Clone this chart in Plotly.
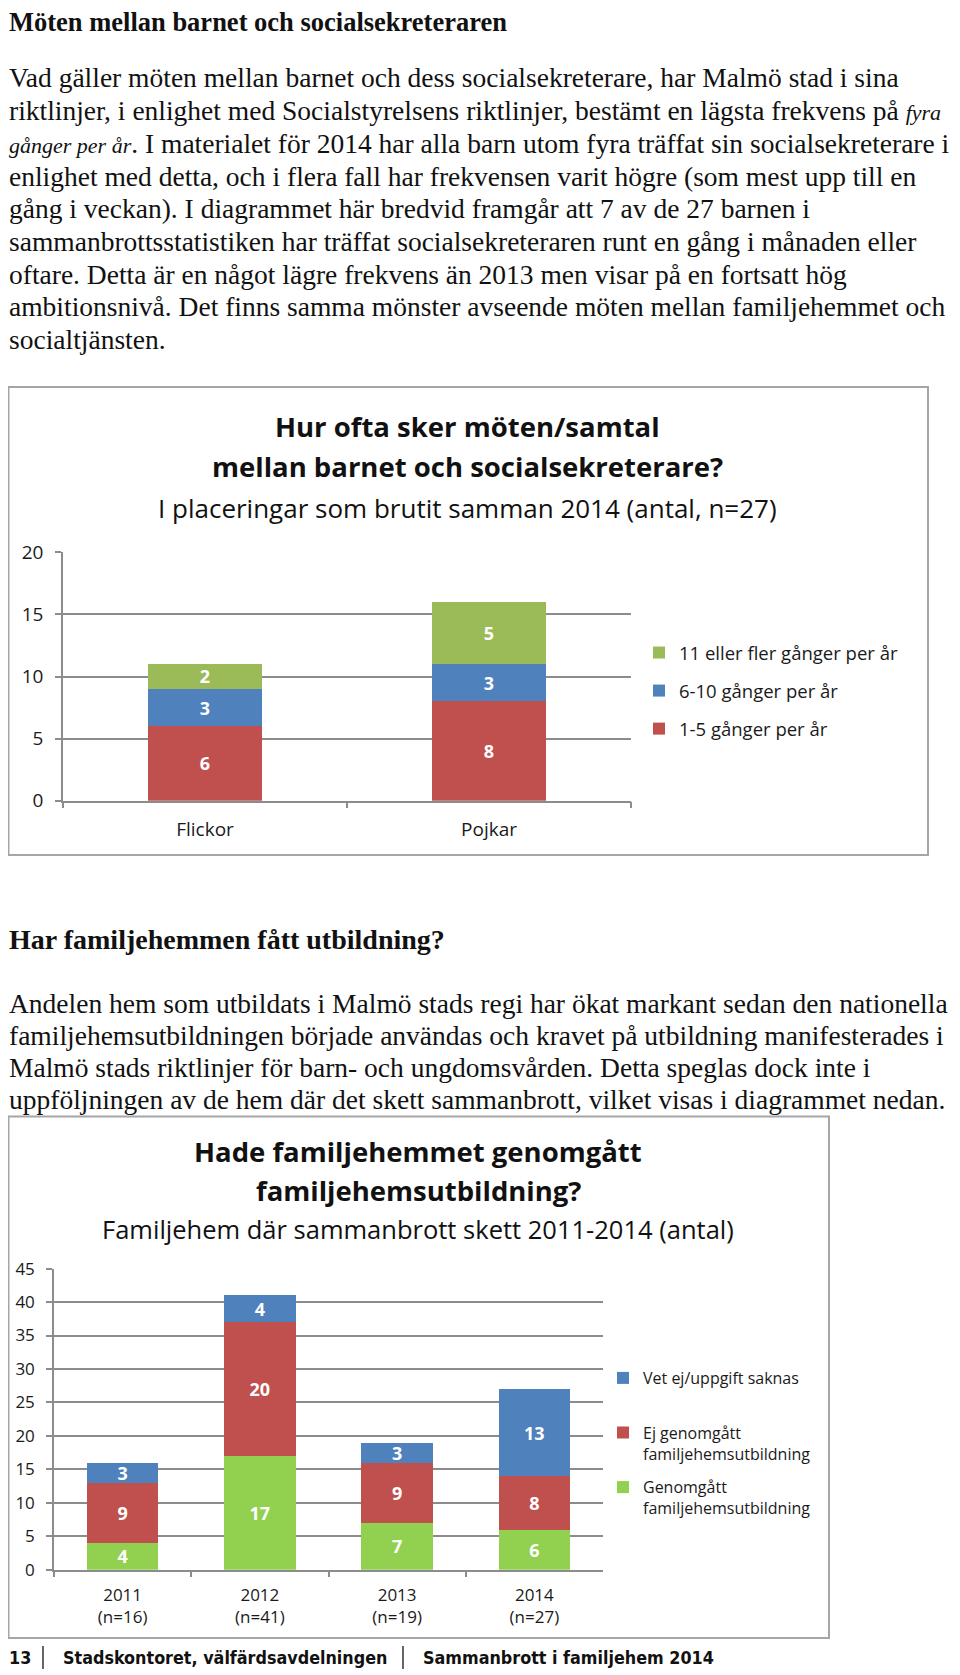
import plotly.graph_objects as go

# chart 1: meetings child / social worker 2014
kon = ["Flickor", "Pojkar"]
freq_1_5 = [6, 8]
freq_6_10 = [3, 3]
freq_11 = [2, 5]

# chart 2: foster home training 2011-2014
ar = ["2011<br>(n=16)", "2012<br>(n=41)", "2013<br>(n=19)", "2014<br>(n=27)"]
genomgatt = [4, 17, 7, 6]
ej_genomgatt = [9, 20, 9, 8]
vet_ej = [3, 4, 3, 13]

W, H = 960, 1675
OFF = 8  # page body margin


def X(px):
    return (px - OFF) / W


def Y(py):
    return 1 - (py - OFF) / H


GREEN1 = "#9BBB59"
GREEN2 = "#92D050"
BLUE = "#4F81BD"
RED = "#C0504D"
GRID = "#8c8c8c"
CHART_FONT = "Open Sans"
SERIF = "Liberation Serif"

bar_text = dict(color="white", size=18, family=CHART_FONT, weight="bold")

fig = go.Figure()

# chart 1 traces
for name, vals, col, rank in [("1-5 gånger per år", freq_1_5, RED, 3),
                              ("6-10 gånger per år", freq_6_10, BLUE, 2),
                              ("11 eller fler gånger per år", freq_11, GREEN1, 1)]:
    fig.add_trace(go.Bar(x=kon, y=vals, name=name, width=0.4,
                         marker=dict(color=col, line_width=0),
                         text=[str(v) for v in vals], textposition="inside", textangle=0,
                         insidetextanchor="middle", textfont=bar_text,
                         xaxis="x", yaxis="y", legend="legend",
                         legendgroup=name, legendrank=rank))

# chart 2 traces
for name, vals, col, rank in [("Genomgått<br>familjehemsutbildning", genomgatt, GREEN2, 3),
                              ("Ej genomgått<br>familjehemsutbildning", ej_genomgatt, RED, 2),
                              ("Vet ej/uppgift saknas<br> ", vet_ej, BLUE, 1)]:
    fig.add_trace(go.Bar(x=ar, y=vals, name=name, width=0.52,
                         marker=dict(color=col, line_width=0),
                         text=[str(v) for v in vals], textposition="inside", textangle=0,
                         insidetextanchor="middle", textfont=bar_text,
                         xaxis="x2", yaxis="y2", legend="legend2",
                         legendgroup=name, legendrank=rank))


def axis_common(size):
    return dict(showline=True, linecolor=GRID, linewidth=1.5, ticks="outside",
                ticklen=6, tickcolor=GRID, tickwidth=1.5, automargin=False,
                tickfont=dict(family=CHART_FONT, size=size, color="#1a1a1a"))


fig.update_layout(
    width=W, height=H,
    margin=dict(l=0, r=0, t=0, b=0, autoexpand=False),
    paper_bgcolor="white", plot_bgcolor="white",
    barmode="stack", showlegend=True,
    uniformtext=dict(minsize=18, mode="show"),
    xaxis=dict(domain=[X(63), X(631)], anchor="y", type="category", showgrid=False,
               tickson="boundaries", ticklabelstandoff=11, **axis_common(19)),
    yaxis=dict(domain=[Y(800.7), Y(552.3)], anchor="x", range=[0, 20], dtick=5,
               showgrid=True, gridcolor=GRID, gridwidth=1.5, zeroline=False,
               ticklabelstandoff=8, **axis_common(19)),
    xaxis2=dict(domain=[X(54), X(603)], anchor="y2", type="category", showgrid=False,
                tickson="boundaries", ticklabelstandoff=9, **axis_common(17)),
    yaxis2=dict(domain=[Y(1569.7), Y(1268.6)], anchor="x2", range=[0, 45], dtick=5,
                showgrid=True, gridcolor=GRID, gridwidth=1.5, zeroline=False,
                ticklabelstandoff=8, **axis_common(17)),
    legend=dict(x=X(639), y=Y(634), xanchor="left", yanchor="top",
                traceorder="grouped", tracegroupgap=11,
                font=dict(family=CHART_FONT, size=18.5, color="#1a1a1a"),
                bgcolor="rgba(0,0,0,0)"),
    legend2=dict(x=X(603), y=Y(1361), xanchor="left", yanchor="top",
                 traceorder="grouped", tracegroupgap=10, valign="top",
                 font=dict(family=CHART_FONT, size=16, color="#1a1a1a"),
                 bgcolor="rgba(0,0,0,0)"),
)

# --- page text ---
ann = []


def line(txt, py, size=27.5, px=7, family=SERIF, color="#111", anchor="left"):
    ann.append(dict(text=txt, x=X(px), y=Y(py), xref="paper", yref="paper",
                    xanchor=anchor, yanchor="middle", showarrow=False,
                    font=dict(family=family, size=size, color=color)))


IT = '<span style="font-style:italic;font-size:22px">'
line("<b>Möten mellan barnet och socialsekreteraren</b>", 22.5, size=26.5)

para1 = [
    "Vad gäller möten mellan barnet och dess socialsekreterare, har Malmö stad i sina",
    "riktlinjer, i enlighet med Socialstyrelsens riktlinjer, bestämt en lägsta frekvens på " + IT + "fyra</span>",
    IT + "gånger per år</span>. I materialet för 2014 har alla barn utom fyra träffat sin socialsekreterare i",
    "enlighet med detta, och i flera fall har frekvensen varit högre (som mest upp till en",
    "gång i veckan). I diagrammet här bredvid framgår att 7 av de 27 barnen i",
    "sammanbrottsstatistiken har träffat socialsekreteraren runt en gång i månaden eller",
    "oftare. Detta är en något lägre frekvens än 2013 men visar på en fortsatt hög",
    "ambitionsnivå. Det finns samma mönster avseende möten mellan familjehemmet och",
    "socialtjänsten.",
]
for i, t in enumerate(para1):
    line(t, 78 + 32.7 * i)

line("<b>Har familjehemmen fått utbildning?</b>", 939, size=28)

para2 = [
    "Andelen hem som utbildats i Malmö stads regi har ökat markant sedan den nationella",
    "familjehemsutbildningen började användas och kravet på utbildning manifesterades i",
    "Malmö stads riktlinjer för barn- och ungdomsvården. Detta speglas dock inte i",
    "uppföljningen av de hem där det skett sammanbrott, vilket visas i diagrammet nedan.",
]
for i, t in enumerate(para2):
    line(t, 1003 + 32.3 * i)

# chart titles
line("<b>Hur ofta sker möten/samtal</b>", 427, size=27.5, px=467, family=CHART_FONT, anchor="center")
line("<b>mellan barnet och socialsekreterare?</b>", 467, size=27.5, px=467, family=CHART_FONT, anchor="center")
line("I placeringar som brutit samman 2014 (antal, n=27)", 508, size=26, px=467, family=CHART_FONT, anchor="center")

line("<b>Hade familjehemmet genomgått</b>", 1151, size=27.5, px=418, family=CHART_FONT, anchor="center")
line("<b>familjehemsutbildning?</b>", 1190, size=27.5, px=418, family=CHART_FONT, anchor="center")
line("Familjehem där sammanbrott skett 2011-2014 (antal)", 1229, size=25.5, px=418, family=CHART_FONT, anchor="center")

# footer
FOOT = "DejaVu Sans Condensed, Liberation Sans, sans-serif"
line("<b>13</b>", 1657, size=17.8, px=7, family=FOOT, color="#111")
line("<b>Stadskontoret, välfärdsavdelningen</b>", 1657, size=17.8, px=61, family=FOOT, color="#111")
line("<b>Sammanbrott i familjehem 2014</b>", 1657, size=17.8, px=421, family=FOOT, color="#111")

fig.update_layout(annotations=ann)

shapes = [
    dict(type="rect", xref="paper", yref="paper", x0=X(8.5), x1=X(928), y0=Y(387), y1=Y(855),
         line=dict(color="#a6a6a6", width=2)),
    dict(type="rect", xref="paper", yref="paper", x0=X(8.5), x1=X(829), y0=Y(1116.5), y1=Y(1638),
         line=dict(color="#a6a6a6", width=2)),
    dict(type="line", xref="paper", yref="paper", x0=X(43), x1=X(43), y0=Y(1646), y1=Y(1669),
         line=dict(color="#333", width=1.5)),
    dict(type="line", xref="paper", yref="paper", x0=X(403), x1=X(403), y0=Y(1646), y1=Y(1669),
         line=dict(color="#333", width=1.5)),
]
fig.update_layout(shapes=shapes)

fig.write_html("out.html")
